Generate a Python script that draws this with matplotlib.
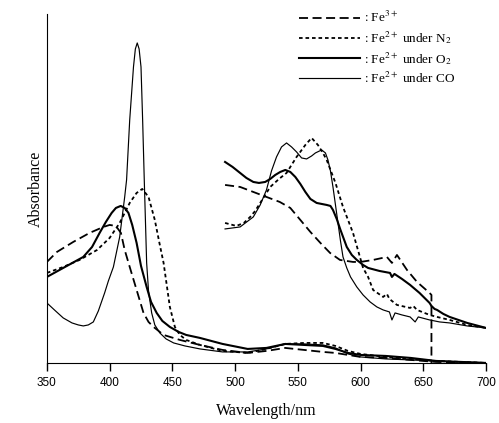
import matplotlib
matplotlib.use('Agg')
import matplotlib.pyplot as plt

plt.rcParams['mathtext.fontset'] = 'stix'

# Soret / full-range spectra (350-700 nm)
co_wl = [350, 356, 363, 370, 375, 379, 383, 387, 391, 396, 399, 403, 408, 412, 413.5, 416, 419,
         420.5, 422, 423.5, 425, 426.3, 427.6, 429.5, 431, 433.5, 436, 440, 445, 451, 460, 472,
         490, 510, 525, 540, 555, 570, 580, 590, 600, 620, 640, 660, 680, 700]
co_abs = [60, 53, 45, 40, 38, 37, 38, 41, 52, 70, 82, 96, 126, 166, 183, 243, 296,
          314, 320, 314, 296, 243, 183, 100, 72, 50, 38, 30, 24, 20, 17, 14,
          11, 11, 14, 19, 19, 18, 15, 9, 6, 4, 3, 2, 1, 0]

o2_wl = [350, 363, 379, 386, 392, 397, 401.6, 405, 408.8, 412, 415, 418, 421.5, 425, 429.5, 433,
         437.5, 442, 448, 455, 461, 472, 490, 510, 525, 540, 555, 570, 580, 590, 600, 620, 640,
         660, 680, 700]
o2_abs = [86, 95, 106, 116, 130, 141, 150, 155, 157, 155, 150, 138, 120, 97, 76, 61,
          50, 42, 36, 31, 28, 25, 19, 14, 15, 19, 18, 17, 14, 10, 8, 7, 5,
          2, 1, 0]

fe3_wl = [350, 358, 371, 384, 395, 400, 405, 409, 412, 416, 421.5, 427, 431, 435, 443, 456, 472,
          490, 510, 525, 540, 555, 570, 580, 590, 600, 620, 640, 660, 680, 700]
fe3_abs = [101, 111, 121, 130, 136, 138, 137, 130, 113, 96, 73, 50, 41, 36, 28, 23, 18,
           13, 10, 12, 15, 13, 11, 10, 8, 6, 5, 3, 1, 0.5, 0]

n2_wl = [350, 363, 376, 390, 400, 408, 416, 421.5, 426, 431, 436, 440, 443, 448, 452, 456, 461,
         472, 490, 510, 525, 540, 555, 570, 580, 590, 600, 620, 640, 660, 680, 700]
n2_abs = [90, 96, 103, 113, 125, 140, 160, 170, 174, 166, 143, 118, 100, 56, 36, 28, 23,
          18, 12, 10, 14, 19, 20, 20, 17, 12, 9, 6, 4, 2, 1, 0]

# magnified visible region (drawn in the upper right)
co_wl_z = [492, 504, 514.5, 520, 525, 529, 533, 537, 541, 545, 549, 553, 557, 561, 564, 569,
           572, 574, 576, 578, 580, 582, 584, 586, 589, 592, 597, 602, 607.6, 613, 618, 623,
           625, 627.5, 633, 639.5, 643.5, 646, 655, 663, 671, 685, 700]
co_abs_z = [134, 136, 146, 158, 173, 192, 206, 216, 220, 216, 211, 205, 204, 207, 210, 213,
            210, 203, 192, 176, 158, 140, 122, 106, 95, 86, 76, 68, 61, 56, 53, 51,
            43, 50, 48, 46, 41, 46, 43, 41, 40, 37, 35]

o2_wl_z = [492, 498, 504, 509, 514.5, 519, 524, 528, 532, 536, 540, 544, 548, 552, 556, 560,
           565, 569, 573, 576, 578, 581, 584, 589, 593, 597, 602, 606, 615, 623.5, 625, 627,
           633, 639.5, 647, 655, 656.5, 659, 661, 666, 671, 678, 685, 700]
o2_abs_z = [201, 196, 190, 185, 181, 180, 181, 184, 188, 191, 193, 191, 186, 179, 171, 164,
            160, 159, 158, 157, 153, 144, 133, 116, 108, 103, 98, 95, 92, 90, 86, 89,
            84, 78, 70, 60, 57, 54, 53, 49, 46, 43, 40, 35]

n2_wl_z = [492, 501, 507, 512, 516, 520, 528, 535, 541, 549, 556, 561, 566, 570, 573, 580, 586,
           594, 602, 606, 610, 618, 621, 623, 629, 639.5, 642, 645, 655, 661, 671, 685, 700]
n2_abs_z = [140, 137, 140, 146, 152, 160, 176, 184, 190, 206, 218, 225, 218, 210, 203, 180, 156,
            130, 95, 86, 73, 66, 69, 64, 58, 55, 57, 53, 48, 46, 43, 38, 35]

fe3_wl_z = [492, 504, 514.5, 525, 535.6, 544, 552, 560, 568, 575.7, 583.6, 594, 600, 610,
            621, 625, 629, 637, 645, 655, 656.5, 656.5]
fe3_abs_z = [178, 176, 171, 166, 161, 155, 143, 131, 120, 110, 103, 101, 101, 103,
             106, 100, 108, 93, 81, 70, 68, 0]

x_ticks = [350, 400, 450, 500, 550, 600, 650, 700]

fe3_style = dict(color='black', lw=1.3, linestyle=(0, (5, 2.5)))
n2_style = dict(color='black', lw=1.3, linestyle=(0, (2, 1.6)))
o2_style = dict(color='black', lw=1.5, linestyle='-')
co_style = dict(color='black', lw=0.85, linestyle='-')

fig = plt.figure(figsize=(4.99, 4.23), dpi=100)
ax = fig.add_axes([0.094, 0.142, 0.880, 0.825])

ax.plot(fe3_wl, fe3_abs, label=': Fe$^{3+}$', **fe3_style)
ax.plot(n2_wl, n2_abs, label=': Fe$^{2+}$ under N$_2$', **n2_style)
ax.plot(o2_wl, o2_abs, label=': Fe$^{2+}$ under O$_2$', **o2_style)
ax.plot(co_wl, co_abs, label=': Fe$^{2+}$ under CO', **co_style)

ax.plot(fe3_wl_z, fe3_abs_z, **fe3_style)
ax.plot(n2_wl_z, n2_abs_z, **n2_style)
ax.plot(o2_wl_z, o2_abs_z, **o2_style)
ax.plot(co_wl_z, co_abs_z, **co_style)

ax.set_xlim(350, 700)
ax.set_ylim(0, 349)
ax.set_xticks(x_ticks)
ax.set_yticks([])
ax.spines['top'].set_visible(False)
ax.spines['right'].set_visible(False)
ax.tick_params(axis='x', direction='out', length=6, width=1, pad=4)
for lab in ax.get_xticklabels():
    lab.set_fontfamily('Liberation Sans')
    lab.set_fontsize(8.5)

ax.set_xlabel('Wavelength/nm', fontfamily='Liberation Serif', fontsize=11.5, labelpad=10)
ax.set_ylabel('Absorbance', fontfamily='Liberation Serif', fontsize=11.5, labelpad=2)

leg = ax.legend(loc='upper left', bbox_to_anchor=(0.56, 1.03), frameon=False,
                handlelength=4.6, handletextpad=0.3, labelspacing=0.3, borderpad=0,
                prop={'family': 'Liberation Serif', 'size': 9.5})

fig.savefig('out.png', dpi=100)
